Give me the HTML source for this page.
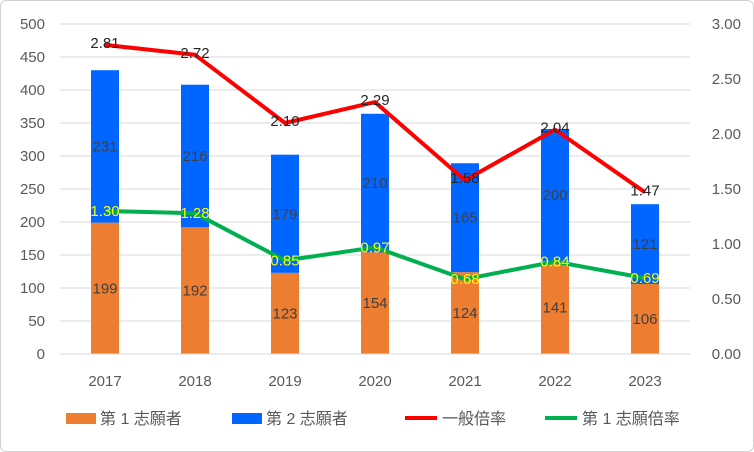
<!DOCTYPE html>
<html><head><meta charset="utf-8">
<style>
html,body{margin:0;padding:0;background:#fff;}
svg{display:block;font-family:"Liberation Sans","Noto Sans CJK JP",sans-serif;}
</style></head>
<body>
<svg id="chart" width="754" height="452" viewBox="0 0 754 452" xmlns="http://www.w3.org/2000/svg">
<rect x="0.5" y="0.5" width="753" height="451" rx="6" fill="#fff" stroke="#d0d0d0"/>
<g id="grid"></g><g id="bars"></g><g id="lines"></g><g id="labels"></g><g id="axes"></g>
<g id="legend"></g>
</svg>
<script>
const categories=["2017","2018","2019","2020","2021","2022","2023"];
const first=[199,192,123,154,124,141,106];
const second=[231,216,179,210,165,200,121];
const generalRate=[2.81,2.72,2.10,2.29,1.58,2.04,1.47];
const firstRate=[1.30,1.28,0.85,0.97,0.68,0.84,0.69];
const leftTicks=[0,50,100,150,200,250,300,350,400,450,500];
const rightTicks=[0,0.5,1,1.5,2,2.5,3];

const NS="http://www.w3.org/2000/svg";
const x0=60,x1=690,yTop=24,yBot=354;
const yL=v=>yBot-(v/500)*(yBot-yTop);
const yR=v=>yBot-(v/3)*(yBot-yTop);
const step=(x1-x0)/categories.length;
const xC=i=>x0+step*(i+0.5);
function mk(tag,attrs,parent,text){const e=document.createElementNS(NS,tag);for(const k in attrs)e.setAttribute(k,attrs[k]);if(text!==undefined)e.textContent=text;document.getElementById(parent).appendChild(e);return e;}

leftTicks.forEach(t=>{
 const g=mk('line',{x1:x0,x2:x1,y1:yL(t),y2:yL(t),stroke:'#d9d9d9','stroke-width':1},'grid');
 
 
 const l=mk('text',{x:45,y:yL(t)+5,'text-anchor':'end','font-size':15,fill:'#595959'},'axes',String(t));
 
 
});
rightTicks.forEach(t=>{
 const l=mk('text',{x:741,y:yR(t)+5,'text-anchor':'end','font-size':15,fill:'#595959'},'axes',t.toFixed(2));
 
 
});
categories.forEach((c,i)=>{
 const l=mk('text',{x:xC(i),y:386,'text-anchor':'middle','font-size':15,fill:'#595959'},'axes',c);
 
 
 const bw=28;
 const b1=mk('rect',{x:xC(i)-bw/2,y:yL(first[i]),width:bw,height:yBot-yL(first[i]),fill:'#ed7d31'},'bars');
 
 
 const b2=mk('rect',{x:xC(i)-bw/2,y:yL(first[i]+second[i]),width:bw,height:yL(first[i])-yL(first[i]+second[i]),fill:'#0066ff'},'bars');
 
 
 const t1=mk('text',{x:xC(i),y:(yL(first[i])+yBot)/2+5,'text-anchor':'middle','font-size':15,fill:'#404040'},'labels',String(first[i]));
 
 
 const t2=mk('text',{x:xC(i),y:(yL(first[i])+yL(first[i]+second[i]))/2+5,'text-anchor':'middle','font-size':15,fill:'#404040'},'labels',String(second[i]));
 
 
});
const axisLine=mk('line',{x1:x0,x2:x1,y1:yBot,y2:yBot,stroke:'#d9d9d9'},'axes');



const red=mk('polyline',{points:generalRate.map((v,i)=>xC(i)+','+yR(v)).join(' '),fill:'none',stroke:'#ff0000','stroke-width':4,'stroke-linejoin':'round'},'lines');


const green=mk('polyline',{points:firstRate.map((v,i)=>xC(i)+','+yR(v)).join(' '),fill:'none',stroke:'#00b050','stroke-width':4,'stroke-linejoin':'round'},'lines');


generalRate.forEach((v,i)=>{
 const t=mk('text',{x:xC(i),y:yR(v)+3,'text-anchor':'middle','font-size':15,fill:'#262626'},'labels',v.toFixed(2));
 
 
});
firstRate.forEach((v,i)=>{
 const t=mk('text',{x:xC(i),y:yR(v)+5,'text-anchor':'middle','font-size':15,fill:'#ffff00'},'labels',v.toFixed(2));
 
 
});

const leg=[["第 1 志願者","#ed7d31","box",66],["第 2 志願者","#0066ff","box",232],["一般倍率","#ff0000","line",405],["第 1 志願倍率","#00b050","line",545]];
leg.forEach(([n,c,k,x])=>{
 if(k==="box"){const r=mk('rect',{x:x,y:413,width:30,height:11,fill:c},'legend');
  
  }
 else{const r=mk('line',{x1:x,x2:x+32,y1:418,y2:418,stroke:c,'stroke-width':4},'legend');
  
  }
 const t=mk('text',{x:x+(k==="box"?34:37),y:424,'font-size':16,fill:'#595959'},'legend',n);
 
 
});
</script>
</body></html>
